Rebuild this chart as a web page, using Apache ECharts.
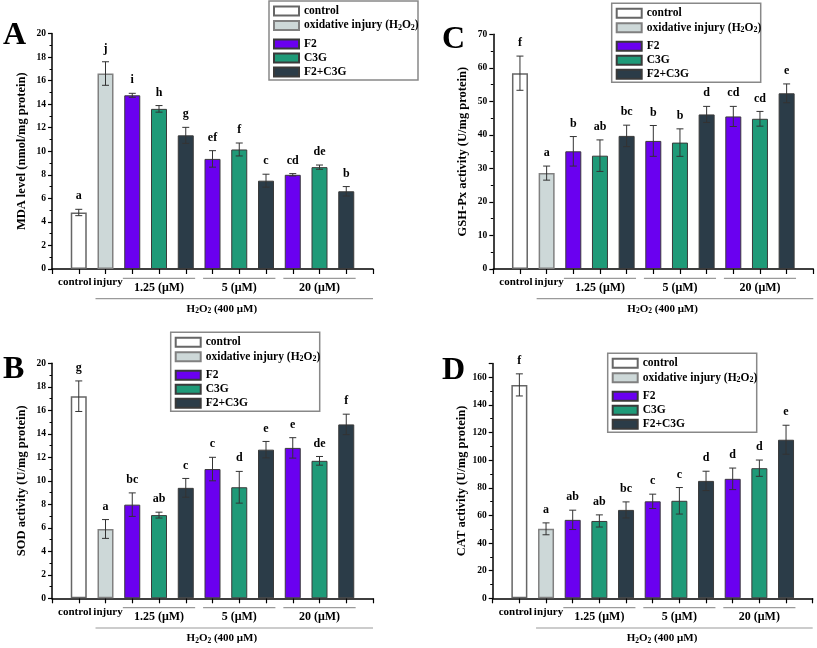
<!DOCTYPE html>
<html lang="en">
<head>
<meta charset="UTF-8">
<title>MDA / SOD / GSH-Px / CAT</title>
<script src="https://cdn.jsdelivr.net/npm/echarts@6/dist/echarts.min.js"></script>
<style>
    html, body { margin: 0; padding: 0; background: #fff; }
    #main { width: 817px; height: 648px; }
</style>
</head>
<body>
<div id="main"></div>
<script>
    // categories along the x axis (one bar each)
    var categories = ['control', 'injury', 'F2 1.25', 'C3G 1.25', 'F2+C3G 1.25', 'F2 5', 'C3G 5', 'F2+C3G 5', 'F2 20', 'C3G 20', 'F2+C3G 20'];
    var legendNames = ['control', 'oxidative injury (H2O2)', 'F2', 'C3G', 'F2+C3G'];
    var barKind = [0, 1, 2, 3, 4, 2, 3, 4, 2, 3, 4];
    var doseLabels = ['1.25 (μM)', '5 (μM)', '20 (μM)'];
    var doseFirst = [2, 5, 8];

    var mdaMean = [4.8, 16.6, 14.75, 13.6, 11.35, 9.35, 10.15, 7.5, 8.0, 8.65, 6.6];
    var mdaErr = [0.27, 1.0, 0.17, 0.28, 0.68, 0.7, 0.55, 0.55, 0.1, 0.18, 0.4];
    var mdaLetters = ['a', 'j', 'i', 'h', 'g', 'ef', 'f', 'c', 'cd', 'de', 'b'];

    var sodMean = [17.2, 5.9, 7.97, 7.08, 9.4, 11.0, 9.45, 12.65, 12.8, 11.7, 14.8];
    var sodErr = [1.3, 0.8, 1.0, 0.25, 0.8, 1.0, 1.35, 0.7, 0.87, 0.37, 0.87];
    var sodLetters = ['g', 'a', 'bc', 'ab', 'c', 'c', 'd', 'e', 'e', 'de', 'f'];

    var gshMean = [58.4, 28.6, 35.1, 33.8, 39.7, 38.2, 37.7, 46.1, 45.5, 44.8, 52.4];
    var gshErr = [5.1, 2.1, 4.4, 4.7, 3.2, 4.6, 4.1, 2.4, 3.0, 2.2, 2.8];
    var gshLetters = ['f', 'a', 'b', 'ab', 'bc', 'b', 'b', 'd', 'cd', 'cd', 'e'];

    var catMean = [154.5, 50.3, 56.8, 56.0, 64.0, 70.2, 70.6, 85.0, 86.5, 94.2, 114.8];
    var catErr = [8, 4.3, 7, 4.4, 5.8, 5.2, 9.6, 7, 7.8, 5.9, 10.5];
    var catLetters = ['f', 'a', 'ab', 'ab', 'bc', 'c', 'c', 'd', 'd', 'd', 'e'];

    var FONT = '"Liberation Serif", "DejaVu Serif", serif';
    var kindStyle = [
        { color: '#ffffff', borderColor: '#666666', borderWidth: 1.5 },
        { color: '#cdd8d8', borderColor: '#808080', borderWidth: 1.5 },
        { color: '#6a00f0', borderColor: '#3a3a3a', borderWidth: 1 },
        { color: '#1f9a78', borderColor: '#3a3a3a', borderWidth: 1 },
        { color: '#2b3c48', borderColor: '#3a3a3a', borderWidth: 1 }
    ];

    var panels = [
        { tag: 'A', mean: mdaMean, err: mdaErr, letters: mdaLetters, name: 'MDA level (nmol/mg protein)', max: 20, step: 2,
          grid: { left: 52, top: 33.5, width: 321, height: 235.5 }, box: [269, 1], tagPos: [3, 20] },
        { tag: 'C', mean: gshMean, err: gshErr, letters: gshLetters, name: 'GSH-Px activity (U/mg protein)', max: 70, step: 10,
          grid: { left: 493.3, top: 34.3, width: 320, height: 234.7 }, box: [611.7, 3.3], tagPos: [442, 24] },
        { tag: 'B', mean: sodMean, err: sodErr, letters: sodLetters, name: 'SOD activity (U/mg protein)', max: 20, step: 2,
          grid: { left: 52, top: 363.3, width: 321, height: 235 }, box: [170.7, 332.3], tagPos: [3, 354] },
        { tag: 'D', mean: catMean, err: catErr, letters: catLetters, name: 'CAT activity (U/mg protein)', max: 170, step: 20,
          grid: { left: 492.7, top: 363.5, width: 320, height: 234.8 }, box: [607.7, 353.3], tagPos: [442, 355] }
    ];

    var axisCats = ['start'].concat(categories).concat(['end']);

    function errorRender(letters) {
        return function (params, api) {
            var x = api.value(0);
            var top = api.coord([x, api.value(2)]);
            var bot = api.coord([x, api.value(1)]);
            var w = 3.5;
            var st = { stroke: '#333', lineWidth: 1 };
            return {
                type: 'group',
                children: [
                    { type: 'line', shape: { x1: top[0], y1: top[1], x2: bot[0], y2: bot[1] }, style: st },
                    { type: 'line', shape: { x1: top[0] - w, y1: top[1], x2: top[0] + w, y2: top[1] }, style: st },
                    { type: 'line', shape: { x1: bot[0] - w, y1: bot[1], x2: bot[0] + w, y2: bot[1] }, style: st },
                    { type: 'text', x: top[0], y: top[1] - 7,
                      style: { text: letters[params.dataIndex], align: 'center', verticalAlign: 'bottom',
                               font: 'bold 12px ' + FONT, fill: '#000' } }
                ]
            };
        };
    }

    var grids = [], xAxes = [], yAxes = [], series = [], legends = [];
    var legendRich = {
        sub: { fontSize: 8, fontWeight: 'bold', fontFamily: FONT, lineHeight: 8, padding: [5, 0, 0, 0] }
    };
    function legendFormatter(name) {
        return name === 'oxidative injury (H2O2)' ? 'oxidative injury (H{sub|2}O{sub|2})' : name;
    }

    panels.forEach(function (p, pi) {
        grids.push(p.grid);
        xAxes.push({
            type: 'category', gridIndex: pi, data: axisCats, boundaryGap: false,
            axisLine: { lineStyle: { color: '#000', width: 1.5 } },
            axisTick: { interval: 0, length: 5, lineStyle: { color: '#000', width: 1.2 } },
            axisLabel: {
                interval: 0, margin: 8, color: '#000', fontWeight: 'bold', fontSize: 11, fontFamily: FONT,
                formatter: function (v) {
                    if (v === 'control') return '{l|control}';
                    if (v === 'injury') return '{r|injury}';
                    return '';
                },
                rich: {
                    l: { fontWeight: 'bold', fontSize: 11, fontFamily: FONT, color: '#000', padding: [0, 8, 0, 0] },
                    r: { fontWeight: 'bold', fontSize: 11, fontFamily: FONT, color: '#000', padding: [0, 0, 0, 5] }
                }
            },
            splitLine: { show: false }
        });
        yAxes.push({
            type: 'value', gridIndex: pi, min: 0, max: p.max, interval: p.step,
            name: p.name, nameLocation: 'middle', nameGap: 24, nameRotate: 90,
            nameTextStyle: { fontWeight: 'bold', fontSize: 12.5, fontFamily: FONT, color: '#000' },
            axisLine: { show: true, lineStyle: { color: '#000', width: 1.5 } },
            axisTick: { show: true, length: 4, lineStyle: { color: '#000', width: 1.2 } },
            minorTick: { show: true, splitNumber: 2, length: 2.5, lineStyle: { color: '#000', width: 1 } },
            axisLabel: {
                margin: 6, color: '#000', fontWeight: 'bold', fontSize: 9.5, fontFamily: FONT,
                formatter: function (v) { return v % p.step === 0 ? v : ''; }
            },
            splitLine: { show: false }
        });
        legendNames.forEach(function (ln, k) {
            var data = axisCats.map(function (c, i) {
                var j = i - 1;
                return (j >= 0 && j < categories.length && barKind[j] === k) ? p.mean[j] : '-';
            });
            series.push({
                name: ln, type: 'bar', xAxisIndex: pi, yAxisIndex: pi, data: data,
                barWidth: 16, barGap: '-100%', itemStyle: kindStyle[k], silent: true
            });
        });
        series.push({
            type: 'custom', xAxisIndex: pi, yAxisIndex: pi, z: 5, silent: true,
            renderItem: errorRender(p.letters),
            data: categories.map(function (c, i) { return [i + 1, p.mean[i] - p.err[i], p.mean[i] + p.err[i]]; })
        });
        var common = {
            orient: 'vertical', padding: 0, itemWidth: 25, itemHeight: 9, itemGap: 2, icon: 'rect',
            selectedMode: false, formatter: legendFormatter,
            textStyle: { fontWeight: 'bold', fontSize: 11.5, fontFamily: FONT, color: '#000', lineHeight: 12, rich: legendRich }
        };
        legends.push(Object.assign({}, common, { left: p.box[0] + 4, top: p.box[1] + 4, data: legendNames.slice(0, 2) }));
        legends.push(Object.assign({}, common, { left: p.box[0] + 4, top: p.box[1] + 37, data: legendNames.slice(2) }));
    });

    var chart = echarts.init(document.getElementById('main'));
    chart.setOption({
        animation: false,
        grid: grids, xAxis: xAxes, yAxis: yAxes, legend: legends, series: series
    });

    // annotations under the axes (dose groups, H2O2 bracket), legend frames, panel tags
    var graphics = [];
    var gray = { stroke: '#9a9a9a', lineWidth: 1.2 };
    panels.forEach(function (p, pi) {
        var px = function (i) { return chart.convertToPixel({ xAxisIndex: pi }, axisCats[i + 1]); };
        var axisY = p.grid.top + p.grid.height;
        doseFirst.forEach(function (f, g) {
            var x1 = px(f) - 9.4, x2 = px(f + 2) + 9.4;
            graphics.push({ type: 'line', shape: { x1: x1, y1: axisY + 9.3, x2: x2, y2: axisY + 9.3 }, style: gray });
            graphics.push({ type: 'text', x: px(f + 1), y: axisY + 18.5,
                style: { text: doseLabels[g], align: 'center', verticalAlign: 'middle', font: 'bold 12px ' + FONT, fill: '#000' } });
        });
        graphics.push({ type: 'line', shape: { x1: px(1) - 10, y1: axisY + 29.7, x2: p.grid.left + p.grid.width, y2: axisY + 29.7 }, style: gray });
        graphics.push({ type: 'text', x: (px(1) + px(10)) / 2 - 4, y: axisY + 40,
            style: { text: 'H{sub|2}O{sub|2} (400 μM)', align: 'center', verticalAlign: 'middle',
                     font: 'bold 11px ' + FONT, fill: '#000',
                     rich: { sub: { fontSize: 7.5, fontWeight: 'bold', fontFamily: FONT, padding: [5, 0, 0, 0], lineHeight: 8 } } } });
        graphics.push({ type: 'rect', shape: { x: p.box[0], y: p.box[1], width: 149, height: 79 },
            style: { fill: 'none', stroke: '#888', lineWidth: 1.5 } });
        graphics.push({ type: 'text', x: p.tagPos[0], y: p.tagPos[1],
            style: { text: p.tag, font: 'bold 32px ' + FONT, fill: '#000' } });
    });
    chart.setOption({ graphic: graphics });
</script>
</body>
</html>
